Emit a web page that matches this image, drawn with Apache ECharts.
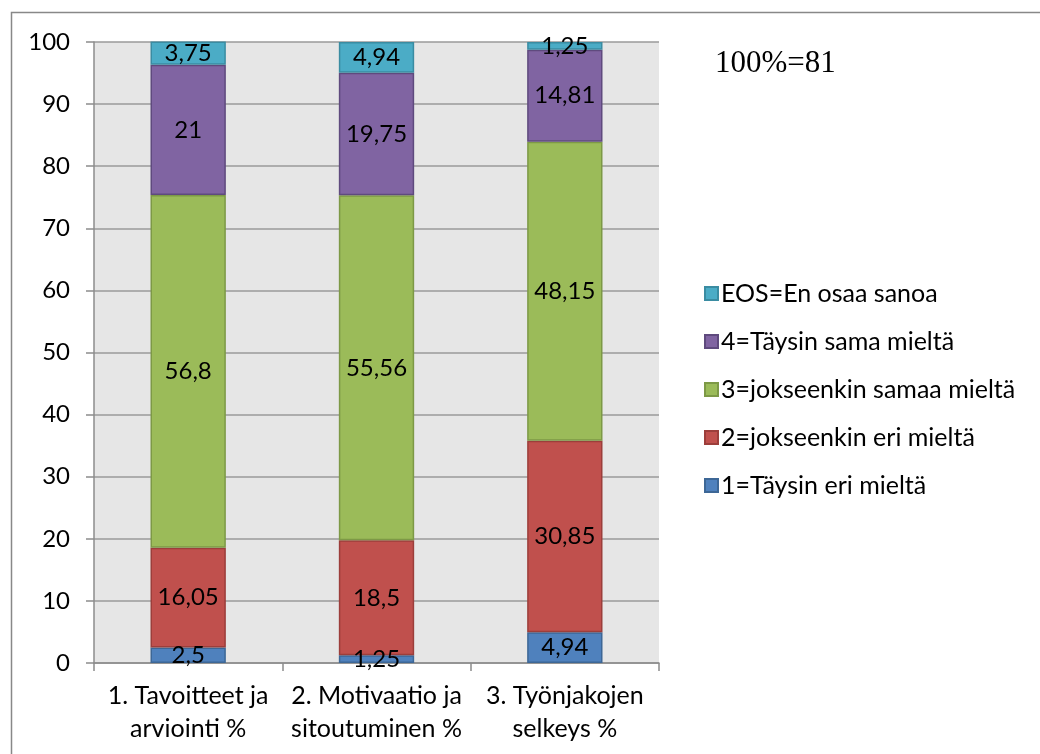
<!DOCTYPE html>
<html><head><meta charset="utf-8">
<script src="https://cdn.jsdelivr.net/npm/echarts@6/dist/echarts.min.js"></script>
<style>html,body{margin:0;padding:0;background:#fff}#c{width:1040px;height:754px}</style>
</head><body><div id="c"></div>
<script>
const categories = ['1. Tavoitteet ja\narviointi %', '2. Motivaatio ja\nsitoutuminen %', '3. Työnjakojen\nselkeys %'];
const seriesNames = ['1=Täysin eri mieltä', '2=jokseenkin eri mieltä', '3=jokseenkin samaa mieltä', '4=Täysin sama mieltä', 'EOS=En osaa sanoa'];
const s1 = [2.5, 1.25, 4.94];
const s2 = [16.05, 18.5, 30.85];
const s3 = [56.8, 55.56, 48.15];
const s4 = [21, 19.75, 14.81];
const sEOS = [3.75, 4.94, 1.25];
const yTicks = [0, 10, 20, 30, 40, 50, 60, 70, 80, 90, 100];
const noteText = '100%=81';

const fills = ['#4f81bd', '#c0504d', '#9bbb59', '#8064a2', '#4bacc6'];
const borders = ['#3d6796', '#9c3e3b', '#7d9946', '#5f4a7e', '#3a8ca2'];
const values = [s1, s2, s3, s4, sEOS];
const font = 'Lato, "Open Sans", sans-serif';
const fs = 24;

const chart = echarts.init(document.getElementById('c'), null, {renderer: 'canvas'});
chart.setOption({
  animation: false,
  backgroundColor: '#ffffff',
  grid: {left: 94, right: 381, top: 42, bottom: 91, show: true, backgroundColor: '#e6e6e6', borderWidth: 0},
  graphic: [
    {type: 'rect', shape: {x: 11.5, y: 12.5, width: 1100, height: 800}, style: {fill: 'none', stroke: '#888888', lineWidth: 1.5}, silent: true, z: -1},
    {type: 'text', left: 715, top: 48, style: {text: noteText, font: '31px "Liberation Serif", "DejaVu Serif", serif', fill: '#000'}}
  ],
  legend: {
    orient: 'vertical', left: 699, top: 276, itemGap: 23, itemWidth: 13, itemHeight: 13,
    icon: 'rect',
    data: seriesNames.slice().reverse(),
    textStyle: {fontFamily: font, fontSize: 25, color: '#000', padding: [0, 0, 0, -2]}
  },
  xAxis: {
    type: 'category', data: categories,
    axisLine: {lineStyle: {color: '#8c8c8c', width: 1.5}},
    axisTick: {show: true, length: 8, alignWithLabel: false, lineStyle: {color: '#8c8c8c', width: 1.5}},
    axisLabel: {interval: 0, fontFamily: font, fontSize: 25, color: '#000', lineHeight: 33, margin: 16}
  },
  yAxis: {
    type: 'value', min: 0, max: 100, interval: 10,
    axisLine: {show: true, lineStyle: {color: '#8c8c8c', width: 1.5}},
    axisTick: {show: true, length: 8, lineStyle: {color: '#8c8c8c', width: 1.5}},
    splitLine: {lineStyle: {color: '#9a9a9a', width: 1.5}},
    axisLabel: {fontFamily: font, fontSize: fs, color: '#000', margin: 24,
      formatter: v => yTicks.includes(v) ? String(v) : ''}
  },
  series: values.map((d, i) => ({
    name: seriesNames[i], type: 'bar', stack: 'total', data: d, barWidth: '40%',
    itemStyle: {color: fills[i], borderColor: borders[i], borderWidth: 1.5},
    label: {show: true, position: 'inside', fontFamily: font, fontSize: fs, color: '#000',
      formatter: p => String(p.value).replace('.', ',')}
  }))
});
</script></body></html>
